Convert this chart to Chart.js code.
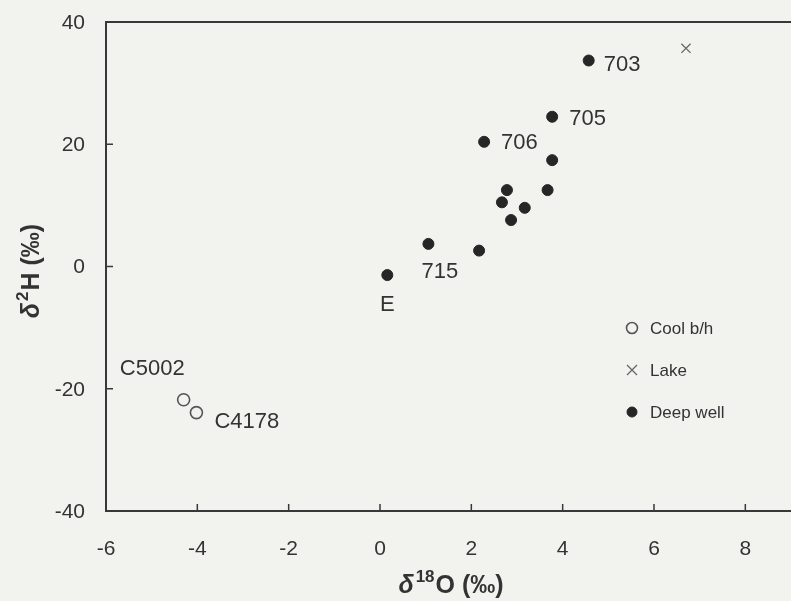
<!DOCTYPE html>
<html>
<head>
<meta charset="utf-8">
<script src="https://cdn.jsdelivr.net/npm/chart.js@4.4.1/dist/chart.umd.min.js"></script>
<style>
  html, body { margin: 0; padding: 0; background: #f2f2ef; }
  #wrap { width: 791px; height: 601px; position: relative; }
</style>
</head>
<body>
<div id="wrap"><canvas id="c" width="791" height="601"></canvas></div>
<script>
// ---- Data ----
const coolX = [-4.30, -4.02];
const coolY = [-21.8, -23.9];
const coolNames = ['C5002', 'C4178'];

const lakeX = [6.70];
const lakeY = [35.7];

const deepX = [4.57, 3.77, 2.28, 3.77, 2.78, 3.67, 2.67, 3.17, 2.87, 1.06, 2.17, 0.16];
const deepY = [33.7, 24.5, 20.4, 17.4, 12.5, 12.5, 10.5, 9.6, 7.6, 3.7, 2.6, -1.4];
const deepNames = ['703', '705', '706', '', '', '', '', '', '', '715', '', 'E'];

const xTicks = [-6, -4, -2, 0, 2, 4, 6, 8];
const yTicks = [-40, -20, 0, 20, 40];
const seriesNames = ['Cool b/h', 'Lake', 'Deep well'];

// label placement (offsets from the point, in px)
const labelPlacement = {
  '703': { dx: 15, dy: 4, align: 'left' },
  '705': { dx: 17, dy: 2, align: 'left' },
  '706': { dx: 17, dy: 1, align: 'left' },
  '715': { dx: -7, dy: 28, align: 'left' },
  'E': { dx: 0, dy: 30, align: 'center' },
  'C5002': { dx: 1, dy: -31, align: 'right' },
  'C4178': { dx: 18, dy: 9, align: 'left' }
};

const toPts = (xs, ys) => xs.map((x, i) => ({ x: x, y: ys[i] }));

const INK = '#333333';
const FONT = '"Liberation Sans", Arial, sans-serif';

const framePlugin = {
  id: 'frame',
  beforeDraw(chart) {
    const ctx = chart.ctx;
    ctx.save();
    ctx.fillStyle = '#f2f2ef';
    ctx.fillRect(0, 0, chart.width, chart.height);
    ctx.restore();
  },
  afterDraw(chart) {
    const ctx = chart.ctx;
    const a = chart.chartArea;
    const xs = chart.scales.x, ys = chart.scales.y;
    ctx.save();
    ctx.strokeStyle = '#383838';
    ctx.lineWidth = 2;
    // frame: left, bottom, top
    ctx.beginPath();
    ctx.moveTo(a.right, a.top); ctx.lineTo(a.left, a.top);
    ctx.lineTo(a.left, a.bottom); ctx.lineTo(a.right, a.bottom);
    ctx.stroke();
    // inward ticks
    ctx.lineWidth = 1.5;
    ctx.beginPath();
    xs.ticks.forEach(t => {
      const px = xs.getPixelForValue(t.value);
      ctx.moveTo(px, a.bottom); ctx.lineTo(px, a.bottom - 7);
    });
    ys.ticks.forEach(t => {
      const py = ys.getPixelForValue(t.value);
      ctx.moveTo(a.left, py); ctx.lineTo(a.left + 7, py);
    });
    ctx.stroke();

    // tick labels
    ctx.fillStyle = INK;
    ctx.font = '21px ' + FONT;
    ctx.textBaseline = 'middle';
    ctx.textAlign = 'center';
    xs.ticks.forEach(t => {
      ctx.fillText(String(t.value), xs.getPixelForValue(t.value), a.bottom + 38);
    });
    ctx.textAlign = 'right';
    ys.ticks.forEach(t => {
      ctx.fillText(String(t.value), a.left - 21, ys.getPixelForValue(t.value) + 1);
    });

    // point labels
    ctx.font = '22px ' + FONT;
    const put = (dsIndex, names) => {
      const meta = chart.getDatasetMeta(dsIndex);
      names.forEach((n, i) => {
        if (!n) return;
        const p = meta.data[i];
        const L = labelPlacement[n];
        ctx.textAlign = L.align;
        ctx.fillText(n, p.x + L.dx, p.y + L.dy);
      });
    };
    put(0, coolNames);
    put(2, deepNames);

    // legend
    const lx = 632, ly0 = 328, gap = 42;
    ctx.font = '17px ' + FONT;
    ctx.textAlign = 'left';
    seriesNames.forEach((name, i) => {
      const y = ly0 + i * gap;
      const ds = chart.data.datasets[i];
      ctx.save();
      ctx.strokeStyle = ds.borderColor;
      ctx.fillStyle = ds.backgroundColor;
      ctx.lineWidth = ds.borderWidth;
      ctx.beginPath();
      if (ds.pointStyle === 'circle') {
        ctx.arc(lx, y, i === 0 ? 5.5 : 5, 0, Math.PI * 2);
        ctx.fill(); ctx.stroke();
      } else {
        const r = 5;
        ctx.moveTo(lx - r, y - r); ctx.lineTo(lx + r, y + r);
        ctx.moveTo(lx + r, y - r); ctx.lineTo(lx - r, y + r);
        ctx.stroke();
      }
      ctx.restore();
      ctx.fillStyle = INK;
      ctx.fillText(name, lx + 18, y + 1);
    });

    // axis titles with italic delta and superscripts
    const drawTitle = (parts, cx, cy, rot) => {
      ctx.save();
      ctx.translate(cx, cy);
      ctx.rotate(rot);
      ctx.textBaseline = 'alphabetic';
      ctx.textAlign = 'left';
      let w = 0;
      parts.forEach(p => { ctx.font = p.f; w += ctx.measureText(p.t).width + (p.k || 0); });
      let x = -w / 2;
      parts.forEach(p => {
        ctx.font = p.f;
        ctx.fillStyle = INK;
        ctx.fillText(p.t, x, 9 + (p.up || 0));
        x += ctx.measureText(p.t).width + (p.k || 0);
      });
      ctx.restore();
    };
    const big = 'bold 25px ' + FONT, ital = 'italic bold 25px ' + FONT, sup = 'bold 17px ' + FONT;
    drawTitle([
      { t: 'δ', f: ital, k: 2 },
      { t: '18', f: sup, up: -11, k: 1 },
      { t: 'O (‰)', f: big }
    ], 451, 584, 0);
    drawTitle([
      { t: 'δ', f: ital, k: 2 },
      { t: '2', f: sup, up: -11, k: 1 },
      { t: 'H (‰)', f: big }
    ], 30, 271, -Math.PI / 2);
    ctx.restore();
  }
};

new Chart(document.getElementById('c'), {
  type: 'scatter',
  data: {
    datasets: [
      {
        label: seriesNames[0],
        data: toPts(coolX, coolY),
        pointStyle: 'circle',
        pointRadius: 6,
        backgroundColor: 'rgba(0,0,0,0)',
        borderColor: '#555555',
        borderWidth: 1.6
      },
      {
        label: seriesNames[1],
        data: toPts(lakeX, lakeY),
        pointStyle: 'crossRot',
        pointRadius: 6.5,
        backgroundColor: '#666666',
        borderColor: '#666666',
        borderWidth: 1.3
      },
      {
        label: seriesNames[2],
        data: toPts(deepX, deepY),
        pointStyle: 'circle',
        pointRadius: 5.5,
        backgroundColor: '#262626',
        borderColor: '#262626',
        borderWidth: 1
      }
    ]
  },
  options: {
    responsive: false,
    animation: false,
    events: [],
    layout: { autoPadding: false, padding: { top: 22, right: 0, left: 0, bottom: 0 } },
    plugins: { legend: { display: false }, tooltip: { enabled: false } },
    scales: {
      x: {
        type: 'linear',
        min: -6, max: 9,
        afterBuildTicks: s => { s.ticks = xTicks.map(v => ({ value: v })); },
        afterFit: s => { s.height = 90; },
        grid: { display: false, drawTicks: false },
        border: { display: false },
        ticks: { display: false }
      },
      y: {
        type: 'linear',
        min: -40, max: 40,
        afterBuildTicks: s => { s.ticks = yTicks.map(v => ({ value: v })); },
        afterFit: s => { s.width = 106; },
        grid: { display: false, drawTicks: false },
        border: { display: false },
        ticks: { display: false }
      }
    }
  },
  plugins: [framePlugin]
});
</script>
</body>
</html>
